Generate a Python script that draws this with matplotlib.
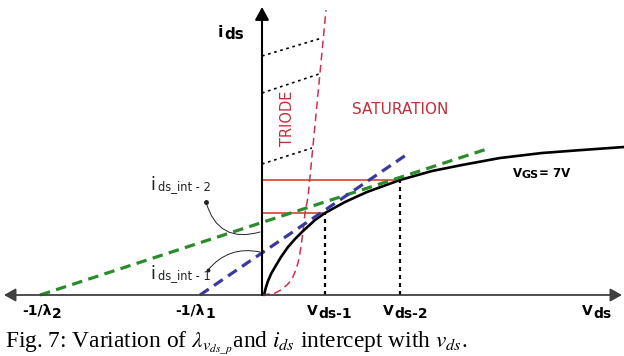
import matplotlib
matplotlib.use('Agg')
import matplotlib.pyplot as plt

plt.rcParams['font.family'] = 'DejaVu Sans'
plt.rcParams['mathtext.fontset'] = 'stix'

# output curve for VGS = 7V (x: vds, y: ids, arbitrary units)
curve_x = [2, 4, 6, 9, 13, 19, 26, 33, 40, 53, 63, 83, 105, 138, 170, 200, 238, 280, 320, 362]
curve_y = [0, 8, 14, 21, 28, 38, 48, 56, 63, 75, 82, 93, 103, 115, 124, 130, 137, 142, 145, 148]

# triode / saturation boundary
triode_x = [0, 7, 13, 19, 25, 30, 33, 36, 38, 41, 43, 46, 48, 53, 58, 64]
triode_y = [0, 1, 2, 5, 10, 16, 23, 32, 42, 63, 82, 98, 118, 170, 222, 285]

# tangent lines (x-intercepts at -1/lambda)
green_x = [-222, 228]
green_y = [0, 147]
blue_x = [-62, 147]
blue_y = [0, 142]

# operating points
vds_pts = [63, 138]
ids_pts = [82, 115]
ids_int = [43, 63]   # where the annotation arrows land on the ids axis

# dotted hatch lines in triode region
hatch_y0 = [131, 202, 239]
hatch_x1 = [50, 57, 60]
hatch_y1 = [147, 221, 257]

fig = plt.figure(figsize=(6.24, 3.56), dpi=100)
ax = fig.add_axes([0, 0, 1, 1])
ax.set_xlim(-262, 362)
ax.set_ylim(-61, 295)
ax.axis('off')

# axes with arrows
ax.annotate('', xy=(360, 0), xytext=(-258, 0),
            arrowprops=dict(arrowstyle='<|-|>,head_length=0.5,head_width=0.28', color='#404040',
                            lw=1.3, shrinkA=0, shrinkB=0, mutation_scale=14))
ax.annotate('', xy=(0, 288), xytext=(0, 0),
            arrowprops=dict(arrowstyle='-|>,head_length=0.55,head_width=0.3', color='black',
                            lw=1.5, shrinkA=0, shrinkB=0, mutation_scale=14))

# hatch
for y0, x1, y1 in zip(hatch_y0, hatch_x1, hatch_y1):
    ax.plot([0, x1], [y0, y1], color='black', lw=1.2, ls=(0, (1.6, 2.2)))

# red horizontal lines and dotted verticals
for vx, iy in zip(vds_pts, ids_pts):
    ax.plot([0, vx], [iy, iy], color='#d4442a', lw=1.2)
    ax.plot([vx, vx], [0, iy], color='black', lw=1.6, ls=(0, (1.8, 1.8)))

ax.plot(triode_x, triode_y, color='#d0304e', lw=1.1, ls=(0, (5, 3)))
ax.plot(curve_x, curve_y, color='black', lw=1.9, solid_capstyle='round')
ax.plot(green_x, green_y, color='#2a8c2a', lw=2.3, ls=(0, (3.3, 2)))
ax.plot(blue_x, blue_y, color='#3b3a9c', lw=2.3, ls=(0, (3.3, 2)))

# annotation arrows for intercepts
ax.annotate('', xy=(-2, ids_int[1]), xytext=(-56, 93),
            arrowprops=dict(arrowstyle='-', connectionstyle='arc3,rad=0.5', lw=0.7,
                            color='#222222', shrinkA=0, shrinkB=0))
ax.plot([-56], [93], 'o', color='#222222', ms=2.5)
ax.annotate('', xy=(-2, ids_int[0]), xytext=(-54, 25),
            arrowprops=dict(arrowstyle='-', connectionstyle='arc3,rad=-0.3', lw=0.7,
                            color='#222222', shrinkA=0, shrinkB=0))
ax.plot([-54], [25], 'o', color='#222222', ms=1.8)

# intercept labels
for yb, n in [(105, '2'), (16, '1')]:
    ax.text(-112, yb, 'i', fontsize=12.5, ha='left', va='baseline', color='#222222')
    ax.text(-104, yb, 'ds_int - ' + n, fontsize=8.3, ha='left', va='baseline', color='#222222')

# region labels
ax.text(25, 177, 'TRIODE', rotation=90, fontsize=10.5, color='#c0303c', ha='center', va='center')
ax.text(90, 181, 'SATURATION', fontsize=11, color='#c0303c', ha='left', va='baseline')

# ids axis label
ax.text(-44, 258, 'i', fontsize=11.5, fontweight='bold', ha='left', va='baseline')
ax.text(-38, 256, 'ds', fontsize=11, fontweight='bold', ha='left', va='baseline')

# VGS label
ax.text(251, 118, 'V', fontsize=8.5, fontweight='bold', ha='left', va='baseline')
ax.text(259, 116.5, 'GS', fontsize=8, fontweight='bold', ha='left', va='baseline')
ax.text(277, 118, '= 7V', fontsize=8.5, fontweight='bold', ha='left', va='baseline')

# x axis labels
def xlabel(xs, main, sub):
    ax.text(xs, -20, main, fontsize=10, fontweight='bold', ha='right', va='baseline')
    ax.text(xs, -23, sub, fontsize=10, fontweight='bold', ha='left', va='baseline')

xlabel(green_x[0] + 12, '-1/\u03bb', '2')
xlabel(blue_x[0] + 5, '-1/\u03bb', '1')
xlabel(vds_pts[0] - 7, 'V', 'ds-1')
xlabel(vds_pts[1] - 6, 'V', 'ds-2')
xlabel(331, 'V', 'ds')

# caption
fig.text(5 / 624, 1 - 347 / 356,
         r'Fig. 7: Variation of $\lambda_{v_{ds\_p}}$and $i_{ds}$ intercept with $v_{ds}$.',
         fontsize=16.8, family='Liberation Serif', ha='left', va='baseline')

fig.savefig('out.png', dpi=100)
